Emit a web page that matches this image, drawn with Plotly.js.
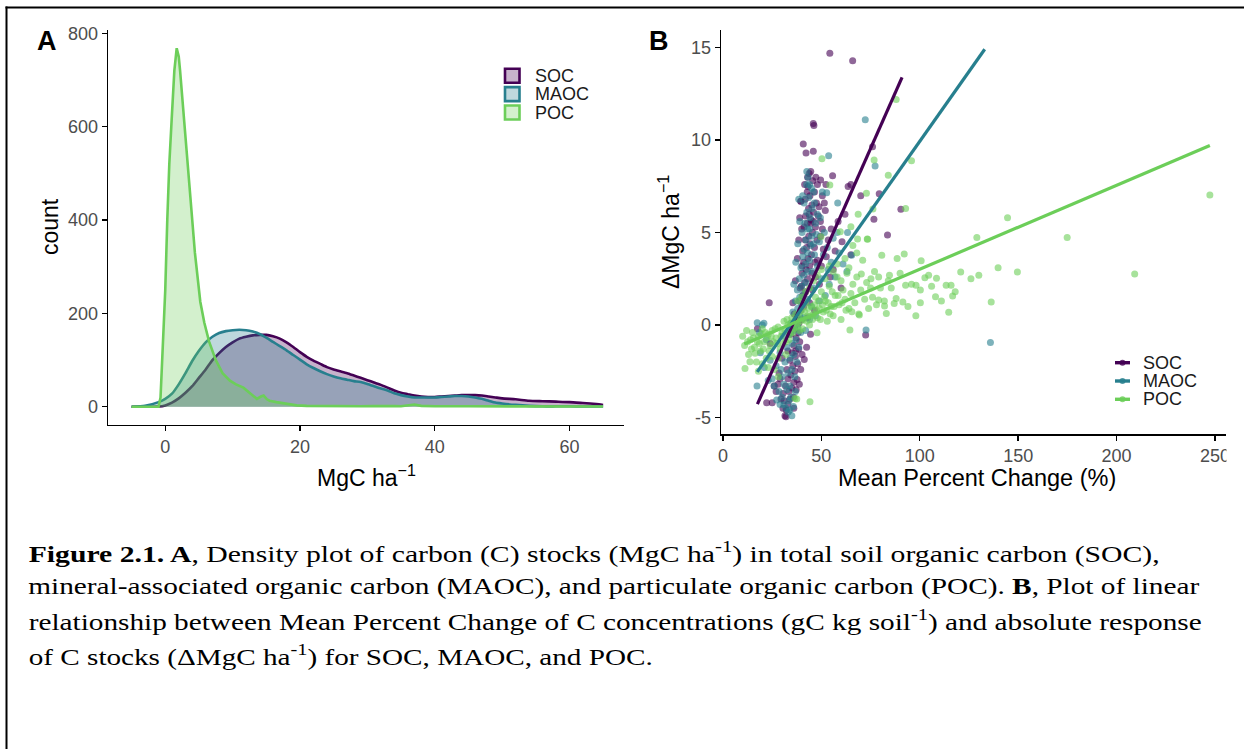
<!DOCTYPE html>
<html><head><meta charset="utf-8">
<script src="https://cdn.plot.ly/plotly-3.0.1.min.js"></script>
<style>html,body{margin:0;padding:0;background:#fff}#chart{width:1244px;height:749px}</style>
</head><body><div id="chart"></div>
<script>
// ---------- DATA ----------
const seriesNames = ['SOC', 'MAOC', 'POC'];
const lineColors = ['#440154', '#277F8E', '#6CCE59'];

// Panel A: density (count) curves
const densGridX = [-5,-3,-1,0,1,2,3,4,5,6,7,8,9,10,11,12,13,14,15,16,17,18,19,20,21,22,23,24,25,26,27,28,29,30,31,32,33,34,35,36,37,38,39,40,41,42,43,44,45,46,47,48,49,50,52,54,56,58,60,62,64,65];
const socDensY = [0,0,0.5,3,9,18,30,44,62,80,100,115,128,138,146,150,153,154,154,151,146,138,128,117,107,99,92,85,80,76,72,67,62,57,52,47,41,35,30,27,24,22,21,21,22,23,24,25,25,25,24,22,20,18,16,13,12,11,10,8,6,4];
const maocDensY = [0,2,10,17,28,48,72,98,120,138,150,158,162,164,165,164,161,156,148,139,130,121,111,101,91,83,76,70,65,61,58,55,53,49,44,39,35,29,25,22,20,20,20,20,21,22,23,23,22,20,17,13,9,7,4,2,1,1,1,0.5,0.5,0.5];
const pocDensX = [-5,-2,-1,-0.7,-0.4,0,0.3,0.6,0.95,1.35,1.7,2.0,2.2,2.8,3.6,4.4,5.2,5.8,6.5,7.5,8.5,9.6,10.5,11.6,12.5,13.6,14.2,14.6,15.1,15.5,16.5,17.5,18.5,19.5,21,23,25,27,29,31,33,34,35,37,38,40,45,50,55,60,65];
const pocDensY = [0,0,0,20,110,250,400,520,615,720,768,750,720,613,470,330,225,180,140,100,72,56,48,41,30,17,22,24,16,13,10,8,5,3,2,1.5,2,1.5,1,1.5,2.5,1.5,1,5,2,1,1,0.5,0.5,0.5,0.5];
const aXTicks = [0, 20, 40, 60];
const aYTicks = [0, 200, 400, 600, 800];

// Panel B: scatter points (Mean Percent Change %, delta MgC/ha)
const socPts = [[31.5,-4.9],[32.2,-4.6],[33.0,-4.3],[31.0,-4.1],[29.5,-4.0],[34.0,-4.0],[22.2,-4.2],[32.0,-4.96],[30.5,-3.7],[33.5,-3.6],[35.0,-3.4],[31.8,-3.3],[28.0,-3.2],[36.0,-3.1],[33.0,-2.9],[34.5,-2.7],[37.7,-2.94],[36.5,-2.5],[32.5,-2.4],[35.5,-2.2],[38.0,-2.1],[34.0,-1.9],[41.3,-1.86],[36.8,-1.7],[35.2,-1.5],[38.5,-1.3],[36.0,-1.1],[39.0,-0.9],[37.2,-0.7],[38.2,-0.4],[36.5,-0.2],[24.0,-1.0],[28.5,-2.6],[27.0,-3.6],
[38.5,0.1],[40.0,0.3],[37.5,0.5],[39.5,0.8],[41.0,1.0],[38.8,1.3],[40.5,1.6],[42.0,1.8],[39.8,2.1],[41.5,2.3],[43.0,2.5],[40.2,2.8],[42.2,3.0],[44.0,3.2],[41.0,3.4],[43.2,3.6],[45.0,3.8],[40.5,4.0],[42.5,4.2],[44.2,4.4],[41.8,4.6],[43.6,4.8],[45.5,5.0],[40.0,5.2],[41.2,5.3],[42.8,5.5],[44.8,5.7],[42.0,5.9],[46.0,6.1],[43.5,6.3],[45.2,6.5],[39.6,6.7],[41.8,6.8],[44.2,7.0],[46.5,7.2],[43.2,7.5],[45.6,7.8],[43.8,8.2],[44.6,8.3],[43.0,8.0],[47.5,6.6],[48.5,5.9],[47.0,5.3],[46.5,4.2],[48.0,3.5],[47.0,2.6],[45.5,1.9],[44.0,1.2],[46.5,0.8],[43.0,0.4],[49.5,4.8],[51.0,4.1],[50.0,3.2],[52.5,3.7],[49.0,2.2],[53.5,4.6],[48.0,7.6],[50.5,7.0],[55.0,5.2],[57.0,4.0],[56.0,3.0],[58.5,5.6],[60.5,4.5],[52.0,6.2],[54.5,2.6],[44.5,-0.5],[42.5,-1.2],
[35.5,1.2],[36.8,2.4],[37.8,3.6],[38.5,4.6],[39.0,5.8],[36.2,0.6],[46.8,3.4],[47.8,4.6],[48.8,6.4],[49.5,5.6],[50.5,5.2],[51.5,6.6],[45.2,2.8],[44.5,5.5],[42.8,7.2],[41.5,7.6],[40.2,3.2],[39.2,2.0],[37.0,-1.4],[34.5,-0.5],[33.0,-1.4],[30.0,-1.8],[29.0,-2.9],[30.5,-4.5],[35.8,-3.9],[37.2,-3.5],[36.0,-4.5],[38.8,-3.2],[39.5,-2.4],[40.2,-1.6],[26.0,-3.3],[25.0,-4.2],[43.8,6.0],[47.2,8.0],[46.0,5.6],
[54.3,14.7],[65.9,14.3],[45.9,10.9],[46.2,10.8],[40.8,9.8],[42.2,9.3],[45.9,9.4],[76.0,9.65],[79.4,7.1],[90.4,6.26],[83.6,4.87],[76.7,5.72],[55.7,8.08],[63.6,7.5],[52.3,7.6],[49.6,7.85],[39.5,6.7],[23.5,1.21],[72.5,-0.54],[17.5,-0.2],[65.0,7.6],[70.0,7.0],[62.0,6.0],[65.0,3.8],[60.0,2.0]];
const maocPts = [[32.0,-4.5],[31.0,-4.3],[33.5,-4.1],[30.0,-3.9],[27.3,-4.06],[28.5,-3.6],[32.5,-3.5],[34.0,-3.3],[17.3,-3.3],[25.0,-2.9],[30.0,-2.8],[33.0,-2.6],[35.0,-2.4],[27.0,-2.2],[31.5,-2.0],[34.2,-1.8],[36.0,-1.6],[29.0,-1.5],[19.0,-1.5],[32.5,-1.2],[35.2,-1.0],[37.0,-0.8],[22.0,-0.8],[30.5,-0.6],[33.8,-0.5],[36.2,-0.3],[38.0,-0.1],[24.0,-1.9],[34.5,-3.9],[35.8,-4.4],[33.2,-4.7],[26.0,-3.3],[29.5,-2.4],
[34.5,0.1],[37.0,0.3],[39.0,0.5],[35.5,0.7],[38.0,0.9],[40.0,1.1],[36.8,1.3],[39.0,1.5],[41.0,1.7],[37.8,1.9],[40.0,2.1],[42.0,2.3],[38.8,2.5],[41.0,2.7],[43.0,2.9],[39.6,3.1],[42.0,3.3],[44.0,3.5],[40.6,3.7],[43.0,3.9],[41.2,4.1],[44.6,4.3],[42.2,4.6],[45.0,4.8],[40.2,5.0],[43.0,5.2],[41.6,5.5],[44.2,5.8],[42.6,6.1],[45.2,6.3],[41.2,6.6],[43.6,6.9],[46.0,7.2],[44.0,7.6],[43.2,8.0],[42.6,8.3],[47.0,5.5],[49.0,4.5],[51.0,3.8],[53.0,4.2],[55.0,3.4],[57.0,2.6],[48.0,3.2],[50.0,2.5],[46.0,2.0],[52.0,1.6],[54.0,2.2],[56.0,4.7],[59.0,3.9],[61.0,3.3],[45.0,1.0],[47.0,0.5],[49.0,1.3],[58.0,5.0],[63.0,2.9],[48.0,6.0],[50.5,7.2],[46.5,6.6],[45.0,7.4],[44.0,0.3],[42.0,-0.3],
[36.0,2.2],[37.0,3.4],[38.0,4.4],[39.0,5.6],[38.5,6.8],[40.5,7.0],[46.5,3.8],[47.5,4.9],[49.5,5.8],[51.5,5.0],[53.5,3.0],[45.5,2.9],[44.0,5.2],[42.5,7.6],[36.5,-2.8],[37.5,-2.0],[38.5,-1.2],[39.5,-0.4],[31.0,-3.2],[29.0,-4.3],[34.0,-4.6],[35.0,-4.9],[36.8,-3.6],[23.0,-3.0],[21.0,-2.3],[18.5,-0.4],[20.0,0.0],[41.0,0.4],[43.0,1.4],[46.0,4.4],
[53.7,9.16],[72.3,11.1],[77.3,8.6],[58.3,6.6],[52.7,7.16],[63.3,5.0],[65.4,3.77],[72.7,-0.27],[135.9,-0.94],[17.4,0.12],[20.8,0.1]];
const pocPts = [[10.0,-0.6],[11.0,-1.1],[12.0,-0.3],[13.0,-1.6],[13.7,-1.98],[11.2,-2.35],[14.0,-0.8],[15.0,-0.4],[16.0,-1.2],[16.3,-1.53],[17.0,-2.0],[18.0,-0.6],[19.0,-1.4],[20.0,-0.2],[21.0,-0.9],[22.0,-1.8],[23.0,-0.5],[24.0,-1.1],[25.0,-0.3],[26.0,-2.4],[27.0,-0.7],[28.0,-0.1],[28.1,-2.8],[29.0,-1.3],[30.0,-0.4],[31.0,0.2],[32.0,-0.9],[33.0,0.0],[34.0,-0.5],[35.0,0.4],[36.0,-0.2],[36.6,-3.97],[37.5,-4.0],[37.0,0.6],[38.0,0.1],[39.0,-0.3],[40.0,0.8],[41.0,0.3],[42.0,1.2],[43.0,0.5],[44.0,0.0],[44.2,-4.15],[45.0,1.0],[46.0,0.6],[47.0,1.5],[47.8,-0.42],[48.0,0.4],[49.0,0.9],[50.0,1.8],[51.0,0.7],[52.0,1.3],[53.0,0.2],[54.0,2.1],[55.0,1.0],[56.0,0.5],[57.0,1.6],[58.0,2.6],[59.0,1.1],[60.0,0.3],[61.0,1.9],[62.0,1.4],[63.0,2.8],[64.0,0.9],[64.5,-0.27],[65.0,1.7],[65.5,0.72],[66.0,2.2],[67.0,1.2],[68.0,2.6],[69.0,0.6],[69.3,0.54],[70.0,1.9],[70.3,2.76],[71.0,3.5],[72.0,1.4],[73.0,2.3],[74.0,0.9],[75.0,2.0],[75.2,2.5],[76.0,1.5],[77.0,2.9],[78.0,1.1],[79.1,2.6],[80.0,2.0],[82.0,1.3],[84.0,2.4],
[12.5,-0.9],[14.5,-1.3],[15.5,-0.7],[17.5,-0.9],[18.5,-1.0],[19.5,-0.5],[20.5,-1.3],[21.5,-0.4],[22.5,-0.7],[23.5,-1.4],[24.5,-0.6],[25.5,-0.9],[26.5,-0.2],[27.5,-1.0],[29.5,-0.6],[30.5,-1.0],[31.5,-0.3],[32.5,0.3],[33.5,-0.8],[34.5,0.1],[35.5,-0.4],[36.5,0.2],[37.5,-0.1],[38.5,0.5],[39.5,0.2],[40.5,-0.2],[41.5,0.7],[42.5,0.2],[43.5,0.9],[44.5,0.5],[45.5,0.3],[46.5,1.1],[47.5,0.8],[48.5,1.3],[49.5,0.3],[50.5,1.1],[51.5,1.5],[52.5,0.8],[53.5,1.2],[54.5,0.6],[55.5,1.8],[56.5,1.0],[58.5,1.6],[60.5,1.2],[62.5,0.8],[44.0,2.0],[46.0,2.4],[48.0,2.7],[50.0,3.0],[42.0,1.8],[40.0,1.5],[38.0,1.3],[52.0,2.5],[54.0,3.2],[56.0,2.9],[60.0,2.4],[64.0,3.1],[66.0,4.3],[68.0,3.9],[62.0,3.6],[58.0,3.3],[23.0,-2.3],[20.0,-2.1],[18.0,-2.5],[28.0,-1.8],[32.0,-1.6],[25.0,-1.7],
[247.4,7.03],[209.2,2.76],[174.9,4.73],[144.6,5.81],[129.0,4.73],[139.8,3.1],[149.6,2.87],[130.0,2.7],[120.8,2.87],[136.3,1.24],[114.7,0.69],[108.0,1.53],[116.7,1.57],[113.4,2.15],[115.9,2.15],[108.5,2.53],[102.6,2.56],[100.3,1.21],[95.8,2.2],[98.1,2.15],[100.3,1.9],[100.7,3.48],[92.1,3.84],[88.5,3.6],[88.0,1.44],[91.4,1.24],[92.8,2.15],[83.0,0.63],[82.1,1.03],[79.1,1.35],[87.0,1.17],[84.6,2.7],[95.8,8.89],[92.8,6.31],[88.0,12.2],[76.8,8.93],[84.0,8.1],[72.9,7.13],[76.2,6.28],[68.4,4.65],[73.3,4.65],[80.7,3.77],[65.0,5.32],[59.6,5.05],[49.8,4.78],[54.3,7.58],[50.3,9.0],[68.7,6.0],[73.5,4.64],[85.5,2.0],[90.0,2.8],[104.5,2.7],[111.0,1.3],[126.0,2.5],[94.0,1.0],[98.0,0.5],[118.0,1.8],[106.0,2.1]];
// fitted lines (endpoints)
const socFitX = [17.5, 91.0],  socFitY = [-4.28, 13.4];
const maocFitX = [17.4, 133.0], maocFitY = [-2.53, 14.92];
const pocFitX = [10.8, 247.4], pocFitY = [-1.03, 9.71];
const bXTicks = [0, 50, 100, 150, 200, 250];
const bYTicks = [-5, 0, 5, 10, 15];
const bYTickText = ['-5', '0', '5', '10', '15'];

const captionLines = [
  '<b>Figure 2.1. A</b>, Density plot of carbon (C) stocks (MgC ha<sup>-1</sup>) in total soil organic carbon (SOC),',
  'mineral-associated organic carbon (MAOC), and particulate organic carbon (POC). <b>B</b>, Plot of linear',
  'relationship between Mean Percent Change of C concentrations (gC kg soil<sup>-1</sup>) and absolute response',
  'of C stocks (\u0394MgC ha<sup>-1</sup>) for SOC, MAOC, and POC.'
];

// ---------- HELPERS ----------
const W = 1244, H = 749;
const PX = x => x / W;
const PY = y => 1 - y / H;
function rgba(hex, a) {
  const r = parseInt(hex.slice(1,3),16), g = parseInt(hex.slice(3,5),16), b = parseInt(hex.slice(5,7),16);
  return `rgba(${r},${g},${b},${a})`;
}
const SANS = 'Liberation Sans, Arial, sans-serif';
const SERIF = 'Liberation Serif, Times New Roman, serif';

// ---------- TRACES ----------
const traces = [];
const densSets = [
  {x: densGridX, y: socDensY, shape: 'spline'},
  {x: densGridX, y: maocDensY, shape: 'spline'},
  {x: pocDensX, y: pocDensY, shape: 'linear'}
];
densSets.forEach((d, i) => {
  traces.push({
    type: 'scatter', mode: 'lines', x: d.x, y: d.y, xaxis: 'x', yaxis: 'y',
    name: seriesNames[i], showlegend: false,
    fill: 'tozeroy', fillcolor: rgba(lineColors[i], 0.3),
    line: {color: lineColors[i], width: 2.6, shape: d.shape, smoothing: 0.6}
  });
});
const ptSets = [socPts, maocPts, pocPts];
ptSets.forEach((pts, i) => {
  traces.push({
    type: 'scatter', mode: 'markers', x: pts.map(p => p[0]), y: pts.map(p => p[1]),
    xaxis: 'x2', yaxis: 'y2', name: seriesNames[i], showlegend: false,
    marker: {color: lineColors[i], size: 7, opacity: 0.6, line: {width: 0}}
  });
});
const fits = [[socFitX, socFitY], [maocFitX, maocFitY], [pocFitX, pocFitY]];
fits.forEach((f, i) => {
  traces.push({
    type: 'scatter', mode: 'lines', x: f[0], y: f[1], xaxis: 'x2', yaxis: 'y2',
    name: seriesNames[i], showlegend: false,
    line: {color: lineColors[i], width: 3.2}
  });
});

// ---------- LAYOUT ----------
const axisCommon = {
  showline: true, linecolor: '#000', linewidth: 1.4, mirror: false,
  ticks: 'outside', ticklen: 5, tickwidth: 1.4, tickcolor: '#000',
  tickfont: {family: SANS, size: 18, color: '#4D4D4D'},
  showgrid: false, zeroline: false, fixedrange: true
};
const layout = {
  width: W, height: H, margin: {l: 0, r: 0, t: 0, b: 0},
  paper_bgcolor: '#fff', plot_bgcolor: 'rgba(0,0,0,0)',
  showlegend: false, hovermode: false,
  xaxis: Object.assign({}, axisCommon, {domain: [PX(108), PX(624)], range: [-8.5, 68.1], tickvals: aXTicks, anchor: 'y'}),
  yaxis: Object.assign({}, axisCommon, {domain: [PY(425), PY(29.5)], range: [-39, 808], tickvals: aYTicks, anchor: 'x'}),
  xaxis2: Object.assign({}, axisCommon, {domain: [PX(721), PX(1226)], range: [-1.0, 255.6], tickvals: bXTicks, anchor: 'y2'}),
  yaxis2: Object.assign({}, axisCommon, {domain: [PY(434.3), PY(30)], range: [-5.91, 15.96], tickvals: bYTicks, ticktext: bYTickText, anchor: 'x2'}),
  shapes: [],
  annotations: []
};

// frame border
layout.shapes.push({type: 'line', xref: 'paper', yref: 'paper', x0: PX(5.5), x1: 1, y0: PY(7.5), y1: PY(7.5), line: {color: '#000', width: 2}});
layout.shapes.push({type: 'line', xref: 'paper', yref: 'paper', x0: PX(6.5), x1: PX(6.5), y0: PY(6.5), y1: 0, line: {color: '#000', width: 2}});
// crop mask on the right of panel B (picture is cut there)
layout.shapes.push({type: 'rect', xref: 'paper', yref: 'paper', layer: 'above', x0: PX(1226.5), x1: 1, y0: PY(520), y1: PY(12), fillcolor: '#fff', line: {width: 0}});

// legend A (boxes)
seriesNames.forEach((n, i) => {
  const cy = 75.8 + i * 18.35;
  layout.shapes.push({type: 'rect', xref: 'paper', yref: 'paper', x0: PX(505), x1: PX(519.5), y0: PY(cy + 7), y1: PY(cy - 7),
    fillcolor: rgba(lineColors[i], 0.3), line: {color: lineColors[i], width: 2.6}});
  layout.annotations.push({xref: 'paper', yref: 'paper', x: PX(533), y: PY(cy), xanchor: 'left', yanchor: 'middle',
    text: n, showarrow: false, font: {family: SANS, size: 18, color: '#1a1a1a'}});
});
// legend B (line + point)
seriesNames.forEach((n, i) => {
  const cy = 362.7 + i * 18.3;
  layout.shapes.push({type: 'line', xref: 'paper', yref: 'paper', x0: PX(1115), x1: PX(1130), y0: PY(cy), y1: PY(cy),
    line: {color: lineColors[i], width: 3.4}});
  layout.shapes.push({type: 'circle', xref: 'paper', yref: 'paper', x0: PX(1119.5), x1: PX(1125.5), y0: PY(cy + 3), y1: PY(cy - 3),
    fillcolor: rgba(lineColors[i], 0.8), line: {width: 0}});
  layout.annotations.push({xref: 'paper', yref: 'paper', x: PX(1141), y: PY(cy), xanchor: 'left', yanchor: 'middle',
    text: n, showarrow: false, font: {family: SANS, size: 18, color: '#1a1a1a'}});
});

// panel tags and axis titles
const ann = (x, y, text, size, extra) => Object.assign({xref: 'paper', yref: 'paper', x: PX(x), y: PY(y), text: text,
  showarrow: false, xanchor: 'center', yanchor: 'middle', font: {family: SANS, size: size, color: '#000'}}, extra || {});
layout.annotations.push(ann(47, 41, '<b>A</b>', 27));
layout.annotations.push(ann(659, 41, '<b>B</b>', 27));
layout.annotations.push(ann(50, 227, 'count', 23, {textangle: -90}));
layout.annotations.push(ann(366, 476, 'MgC ha<sup>\u22121</sup>', 23));
layout.annotations.push(ann(669, 232, '\u0394MgC ha<sup>\u22121</sup>', 23, {textangle: -90}));
layout.annotations.push(ann(977, 478, 'Mean Percent Change (%)', 23.5));

// caption: the reference's caption is set wider than plain Times, so each line is
// stretched to its measured width (text stays centred on its annotation point)
const capY = [551.5, 585.5, 619.5, 654.5];
const capWidth = [1131, 1171, 1173, 624];
const capLeft = 28;
const capStart = layout.annotations.length;
captionLines.forEach((t, i) => {
  layout.annotations.push({xref: 'paper', yref: 'paper', x: PX(capLeft + capWidth[i] / 2), y: PY(capY[i]),
    xanchor: 'center', yanchor: 'middle',
    text: t, showarrow: false, font: {family: SERIF, size: 24, color: '#000'}});
});

Plotly.newPlot('chart', traces, layout, {staticPlot: true, displayModeBar: false}).then(() => {
  captionLines.forEach((t, i) => {
    const el = document.querySelector('.annotation[data-index="' + (capStart + i) + '"] text.annotation-text');
    if (el) {
      el.setAttribute('textLength', capWidth[i]);
      el.setAttribute('lengthAdjust', 'spacingAndGlyphs');
    }
  });
});
</script>
</body></html>
